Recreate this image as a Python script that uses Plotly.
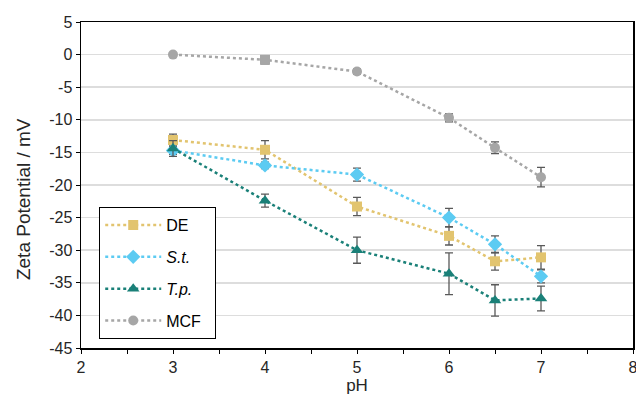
import plotly.graph_objects as go

ph_de = [3, 4, 5, 6, 6.5, 7]
de = [-13.1, -14.6, -23.3, -27.8, -31.7, -31.1]
de_err = [0.9, 1.4, 1.4, 1.4, 1.35, 1.8]

ph_st = [3, 4, 5, 6, 6.5, 7]
st = [-14.7, -17.0, -18.4, -25.0, -29.1, -34.0]
st_err = [0.6, 0.5, 1.0, 1.4, 1.3, 1.0]

ph_tp = [3, 4, 5, 6, 6.5, 7]
tp = [-14.4, -22.4, -30.0, -33.6, -37.7, -37.4]
tp_err = [1.2, 1.0, 2.0, 3.2, 2.4, 1.9]

ph_mcf = [3, 4, 5, 6, 6.5, 7]
mcf = [0.0, -0.8, -2.6, -9.7, -14.3, -18.8]
mcf_err = [0.3, 0.6, 0.4, 0.6, 0.9, 1.5]
mcf_symbols = ["circle", "square", "circle", "circle", "circle", "circle"]

x_ticks = [2, 3, 4, 5, 6, 7, 8]
y_ticks = [5, 0, -5, -10, -15, -20, -25, -30, -35, -40, -45]
y_title = "Zeta Potential / mV"
x_title = "pH"

NB = "\u00a0"
series = [
    ("DE" + NB * 2, ph_de, de, de_err, "#E2C46F", "square", 10),
    ("<i>S.t.</i>" + NB * 2, ph_st, st, st_err, "#5CCBF2", "diamond", 11),
    ("<i>T.p.</i>" + NB * 2, ph_tp, tp, tp_err, "#1A8078", "triangle-up", 11),
    ("MCF" + NB * 2, ph_mcf, mcf, mcf_err, "#A6A6A6", mcf_symbols, 10),
]

fig = go.Figure()
for i, (name, x, y, err, color, sym, size) in enumerate(series):
    fig.add_trace(go.Scatter(
        x=x, y=y, name=name, mode="lines+markers",
        legendgroup=f"g{i}",
        line=dict(color=color, width=2.5, dash="dot"),
        marker=dict(color=color, symbol=sym, size=size),
        error_y=dict(type="data", array=err, visible=True,
                     color="#595959", thickness=1.3, width=4),
    ))

fig.add_annotation(
    text=y_title, textangle=-90, xref="paper", yref="paper",
    x=-0.105, y=0.457, xanchor="center", yanchor="middle", showarrow=False,
    font=dict(size=19, color="#262626"),
)

fig.update_layout(
    width=644, height=396,
    margin=dict(l=81, r=11, t=22, b=48, autoexpand=False),
    paper_bgcolor="white", plot_bgcolor="white",
    font=dict(family="Liberation Sans, Arial, sans-serif", size=16, color="#262626"),
    legend=dict(
        x=0.033, y=0.432, xanchor="left", yanchor="top",
        bordercolor="black", borderwidth=1, bgcolor="white",
        font=dict(size=16, color="black"),
        tracegroupgap=8, itemwidth=56,
    ),
    xaxis=dict(
        range=[2, 8], tickvals=x_ticks, ticktext=[str(v) for v in x_ticks],
        showline=True, linecolor="black", linewidth=1.5, mirror=True,
        ticks="outside", ticklen=4, tickcolor="black",
        ticklabeloverflow="allow",
        minor=dict(dtick=0.5, ticks="outside", ticklen=4, tickcolor="black"),
        showgrid=False, zeroline=False, automargin=False,
        title=dict(text=x_title, standoff=2, font=dict(size=17)),
    ),
    yaxis=dict(
        range=[-45, 5], tickvals=y_ticks, ticktext=[str(v) for v in y_ticks],
        showline=True, linecolor="black", linewidth=1.5, mirror=True,
        ticks="outside", ticklen=4, tickcolor="black",
        showgrid=True, gridcolor="#DDDDDD", gridwidth=1.5, zeroline=False,
        automargin=False,
    ),
)

fig.write_html("out.html", config={"displayModeBar": False, "staticPlot": True})

with open("out.html", "r", encoding="utf-8") as f:
    html = f.read()
html = html.replace("<head>", "<head><style>html,body{margin:0;padding:0;overflow:hidden;}</style>", 1)
with open("out.html", "w", encoding="utf-8") as f:
    f.write(html)
